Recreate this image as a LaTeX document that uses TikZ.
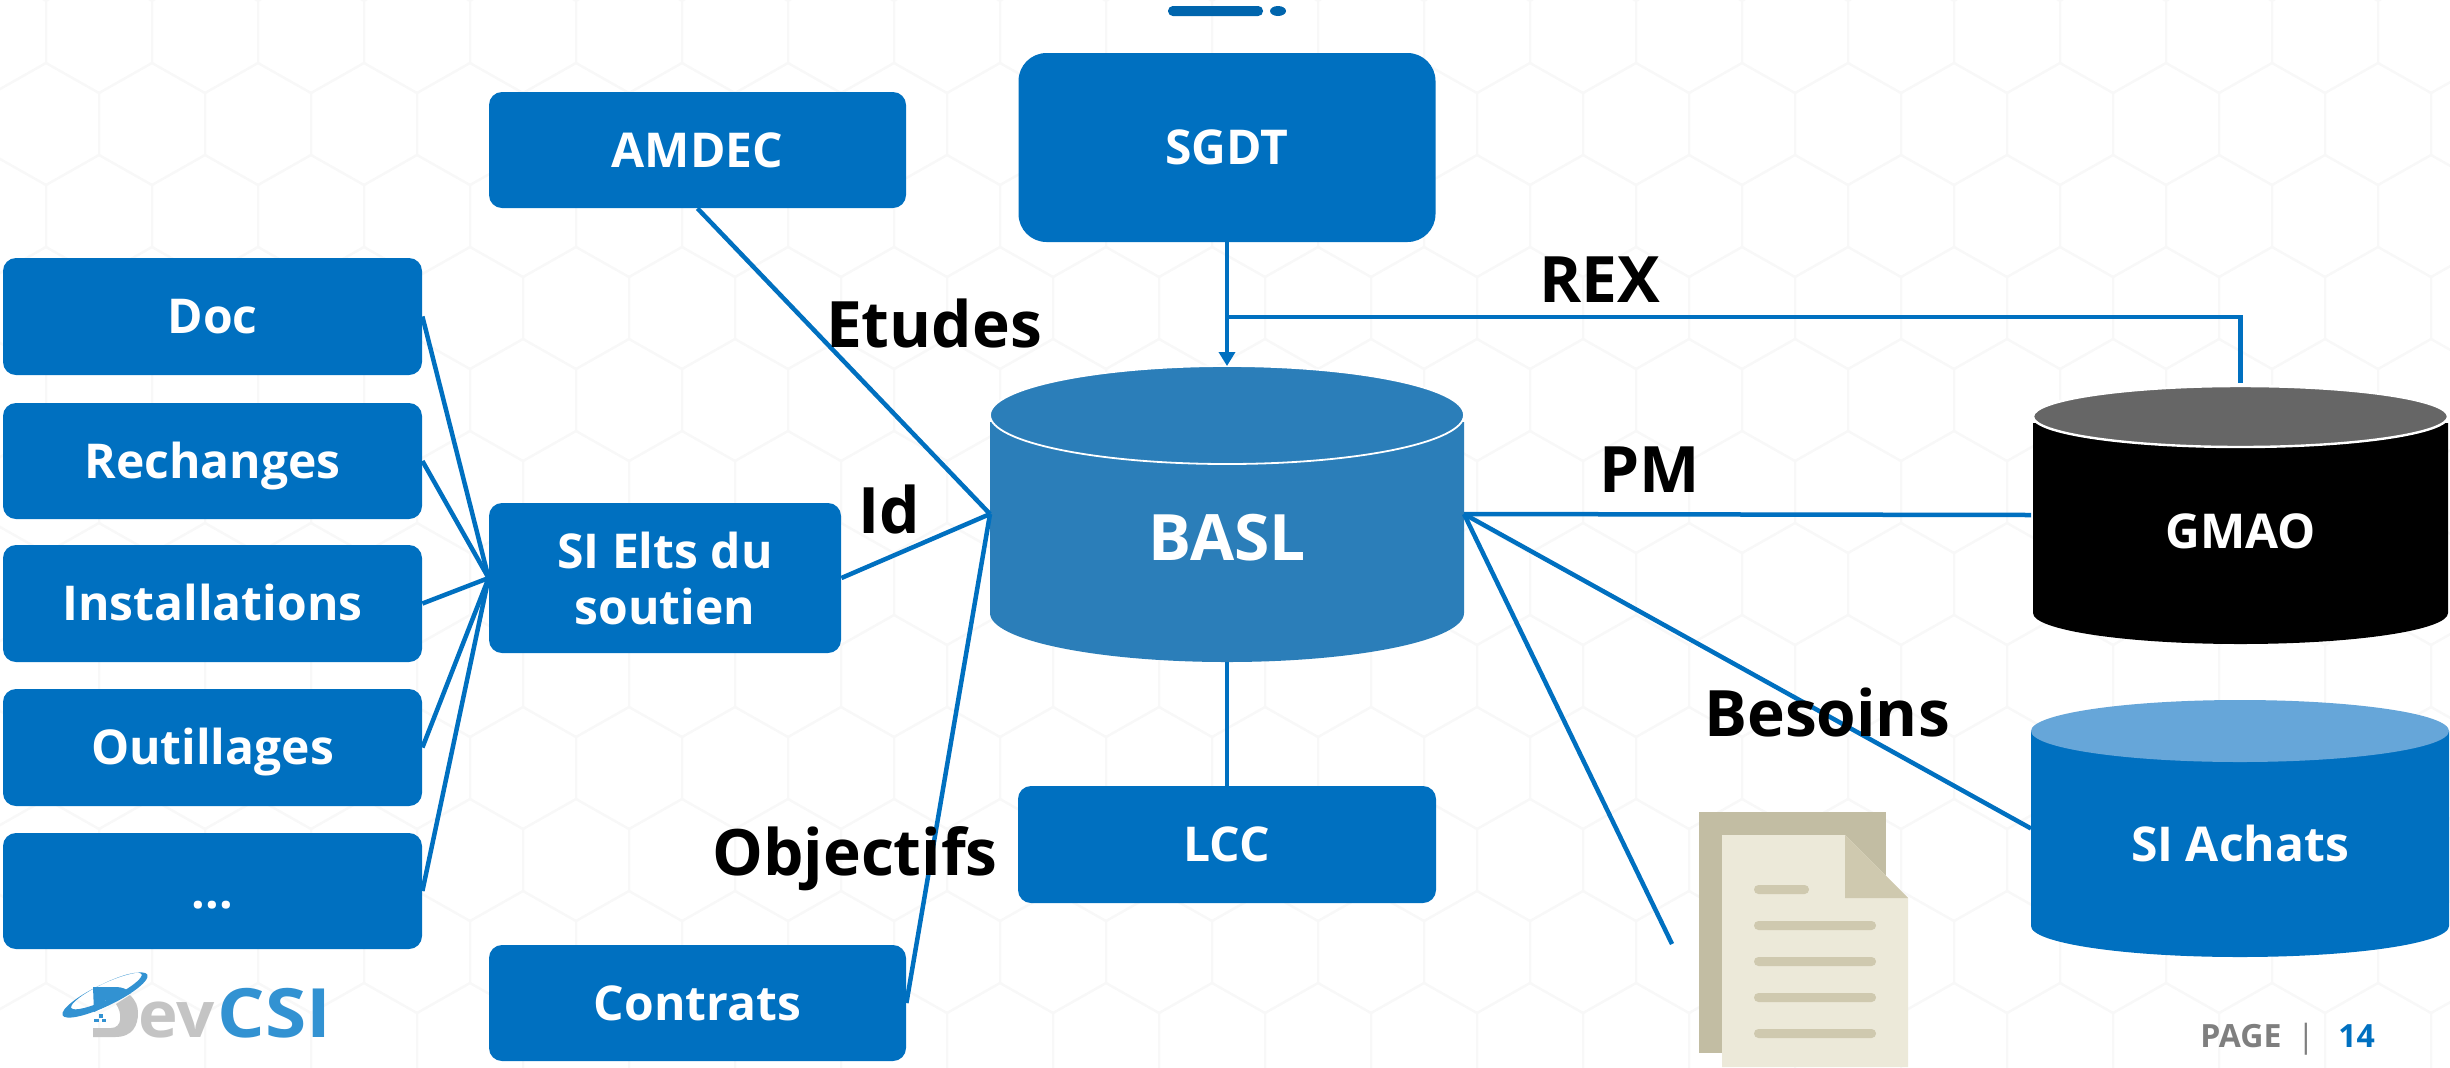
\documentclass[tikz,border=0pt]{standalone}
\usepackage{fontspec}
\setmainfont{Open Sans}
\usetikzlibrary{arrows.meta,calc}
\definecolor{boxblue}{HTML}{0070C0}
\definecolor{baslblue}{HTML}{2B7EB9}
\definecolor{achatstop}{HTML}{66A6D9}
\definecolor{gmaotop}{HTML}{666666}
\definecolor{hexline}{HTML}{F8F8F8}
\definecolor{pageback}{HTML}{C2BDA3}
\definecolor{pagefront}{HTML}{ECE9D9}
\definecolor{pagefold}{HTML}{CFC9AF}
\definecolor{logoblue}{HTML}{3292D2}
\definecolor{logogrey}{HTML}{C4C4C4}
\definecolor{pagegrey}{HTML}{7F7F7F}
\tikzset{
  sz/.style 2 args={minimum width=#1*0.5pt,minimum height=#2*0.5pt},
  bbox/.style={fill=boxblue,rounded corners=6.5pt,text=white,inner sep=0pt,align=center,
    font=\bfseries\fontsize{24}{28}\selectfont},
  capline/.style={text height=17.1pt,text depth=0pt},
  cyltext/.style={text=white,inner sep=0pt,capline,font=\bfseries\fontsize{24}{28}\selectfont},
  lbl/.style={text=black,inner sep=0pt,text height=22.8pt,text depth=0pt,font=\bfseries\fontsize{32}{36}\selectfont},
  link/.style={draw=boxblue,line width=2.25pt},
  logotxt/.style={inner sep=0pt,anchor=base west,font=\bfseries},
  paper/.style={fill=pagefold,rounded corners=2.2pt},
  hook/.style={inner sep=0pt,outer sep=0pt}
}
\begin{document}
\begin{tikzpicture}[x=0.5pt,y=-0.5pt]
\useasboundingbox (0,0) rectangle (2450,1067);
\fill[white] (0,0) rectangle (2450,1067);
% faint hexagon background
\begin{scope}
\clip (0,0) rectangle (2450,1067);
\foreach \r in {-1,...,11}{
  \foreach \c in {-1,...,24}{
    \pgfmathsetmacro{\hx}{-60+106*\c+53*mod(\r+2,2)}
    \pgfmathsetmacro{\hy}{63+92*\r}
    \draw[hexline,line width=1pt] (\hx,\hy) -- ++(53,30) -- ++(0,62) -- ++(-53,30) -- ++(-53,-30) -- ++(0,-62) -- cycle;
  }
}
\end{scope}
% top ornament
\fill[boxblue!90!black,rounded corners=2.4pt] (1168,6) rectangle (1263,16);
\fill[boxblue!90!black] (1278,11) ellipse[x radius=8,y radius=5];
% boxes
\node[bbox,capline,sz={417}{116}] (amdec) at (697.5,150) {AMDEC};
\node[bbox,capline,sz={417}{189},rounded corners=14pt] (sgdt) at (1227,147.5) {SGDT};
\node[bbox,capline,sz={419}{117}] (doc) at (212.5,316.5) {Doc};
\node[bbox,capline,sz={419}{116}] (rech) at (212.5,461) {Rechanges};
\node[bbox,capline,sz={419}{117}] (inst) at (212.5,603.5) {Installations};
\node[bbox,capline,sz={419}{117}] (outil) at (212.5,747.5) {Outillages};
\node[bbox,capline,sz={419}{116}] (dots) at (212.5,891) {...};
\node[bbox,sz={352}{150}] (sielts) at (665,578) {SI Elts du\\soutien};
\node[bbox,capline,sz={418}{117}] (lcc) at (1227,844.5) {LCC};
\node[bbox,capline,sz={417}{116}] (contrats) at (697.5,1003) {Contrats};
% BASL cylinder
\fill[baslblue] (990,422) -- (990,613) arc[x radius=237,y radius=49,start angle=180,end angle=0] -- (1464,422) -- cycle;
\fill[baslblue,draw=white,line width=0.9pt] (1227,415) ellipse[x radius=237,y radius=49];
\node[hook,sz={474}{296}] (basl) at (1227,514) {};
\node[inner sep=0pt,text height=22.8pt,text depth=0pt,text=white,font=\bfseries\fontsize{32}{36}\selectfont] (basltext) at (1227,538) {BASL};
% GMAO cylinder
\fill[black] (2033,423) -- (2033,613) arc[x radius=207.5,y radius=31,start angle=180,end angle=0] -- (2448,423) -- cycle;
\fill[gmaotop,draw=white,line width=1.2pt] (2240.5,416.5) ellipse[x radius=207.5,y radius=30.5];
\node[hook,sz={415}{258}] (gmao) at (2240.5,515) {};
\node[cyltext] (gmaotext) at (2240.5,531) {GMAO};
% SI Achats cylinder
\fill[boxblue] (2031,731) -- (2031,926) arc[x radius=209,y radius=31,start angle=180,end angle=0] -- (2449,731) -- cycle;
\fill[achatstop] (2240,731) ellipse[x radius=209,y radius=31];
\node[hook,sz={418}{257}] (achats) at (2240,828.5) {};
\node[cyltext] (achatstext) at (2240,844) {SI Achats};
% document icon
\fill[pageback] (1699,812) rectangle (1886,1053);
\fill[pagefront] (1722,835) -- (1845,835) -- (1908,898) -- (1908,1067) -- (1722,1067) -- cycle;
\fill[pagefold] (1845,835) -- (1845,898) -- (1908,898) -- cycle;
\fill[paper] (1754,885) rectangle (1809,894);
\fill[paper] (1754,921) rectangle (1876,930);
\fill[paper] (1754,957) rectangle (1876,966);
\fill[paper] (1754,993) rectangle (1876,1002);
\fill[paper] (1754,1029) rectangle (1876,1038);
% free connector ends
\coordinate (docend) at (1672,944);
\coordinate (junction) at (1227,317);
% connectors
\draw[link] (doc.east) -- (sielts.west);
\draw[link] (rech.east) -- (sielts.west);
\draw[link] (inst.east) -- (sielts.west);
\draw[link] (outil.east) -- (sielts.west);
\draw[link] (dots.east) -- (sielts.west);
\draw[link] (amdec.south) -- (basl.west);
\draw[link] (sielts.east) -- (basl.west);
\draw[link] (contrats.east) -- (basl.west);
\draw[link,-{Triangle[length=7pt,width=8pt]}] (sgdt.south) -- (basl.north);
\draw[link,shorten <=1.5pt] (gmao.north) |- (junction);
\draw[link,shorten >=1pt] (basl.east) -- (gmao.west);
\draw[link] (basl.east) -- (achats.west);
\draw[link] (basl.east) -- (docend);
\draw[link] (basl.south) -- (lcc.north);
% labels
\node[lbl] (etudes) at (934,325) {Etudes};
\node[lbl] (id) at (889,511) {Id};
\node[lbl] (rex) at (1600,280) {REX};
\node[lbl] (pm) at (1650,470) {PM};
\node[lbl] (besoins) at (1827,714) {Besoins};
\node[lbl] (objectifs) at (855,853) {Objectifs};
% logo
\fill[logogrey] (93,1037) -- (115,1037) .. controls (133,1037) and (138,1025) .. (138,1013) .. controls (138,1006) and (136,1001) .. (130,995) -- (116,1004) .. controls (122,1012) and (123,1028) .. (111,1028) -- (93,1028) -- cycle;
\fill[logoblue] (93,987) -- (116,987) .. controls (122,987) and (127,989) .. (131,993) -- (94,1012) -- cycle;
\fill[white] (105,1000) -- (116,1000) -- (106,1008) -- cycle;
\fill[logoblue] (99,1014) rectangle (103,1018);
\fill[logoblue] (94,1019) rectangle (99,1022);
\fill[logoblue] (102,1019) rectangle (106,1022);
\fill[logoblue,even odd rule,rotate around={25.6:(105,995)}] (105,995) ellipse[x radius=47,y radius=11] (108,992) ellipse[x radius=39,y radius=8];
\node[logotxt,text=logogrey,font=\bfseries\fontsize{32}{36}\selectfont] (logoev) at (138,1037) {\scalebox{1.05}[1]{ev}};
\node[logotxt,text=logoblue,font=\bfseries\fontsize{34}{38}\selectfont] (logocsi) at (217,1037) {\scalebox{1.1}[1]{CSI}};
% page number
\node[inner sep=0pt,anchor=base west,text=pagegrey,font=\bfseries\fontsize{16}{18}\selectfont] (pagew) at (2200,1047) {PAGE};
\node[inner sep=0pt,anchor=base,text=pagegrey,font=\fontsize{16}{18}\selectfont] (pagebar) at (2306,1047) {|};
\node[inner sep=0pt,anchor=base west,text=boxblue,font=\bfseries\fontsize{16}{18}\selectfont] (pagen) at (2338,1047) {14};
\end{tikzpicture}
\end{document}
